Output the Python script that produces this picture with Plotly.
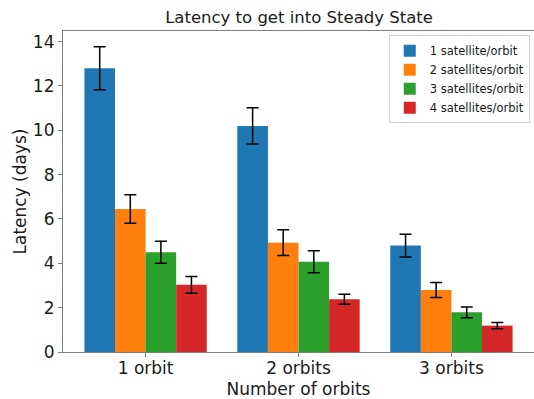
import plotly.graph_objects as go

categories = ["1 orbit", "2 orbits", "3 orbits"]
series_names = ["1 satellite/orbit", "2 satellites/orbit", "3 satellites/orbit", "4 satellites/orbit"]
colors = ["#1f77b4", "#ff7f0e", "#2ca02c", "#d62728"]

lat_1sat = [12.8, 10.2, 4.8]
lat_2sat = [6.45, 4.93, 2.8]
lat_3sat = [4.5, 4.07, 1.79]
lat_4sat = [3.03, 2.38, 1.19]

err_1sat = [0.97, 0.82, 0.51]
err_2sat = [0.64, 0.58, 0.34]
err_3sat = [0.5, 0.5, 0.24]
err_4sat = [0.38, 0.23, 0.14]

values = [lat_1sat, lat_2sat, lat_3sat, lat_4sat]
errors = [err_1sat, err_2sat, err_3sat, err_4sat]

font = "DejaVu Sans"
fig = go.Figure()
for name, col, v, e in zip(series_names, colors, values, errors):
    fig.add_trace(go.Bar(
        x=categories, y=v, name=name,
        marker=dict(color=col, line=dict(width=0)),
        error_y=dict(type="data", array=e, visible=True, color="black", thickness=1.5, width=6),
    ))

axis_line = "#7f7f7f"
fig.update_layout(
    width=534, height=399,
    margin=dict(l=63, r=0, t=31, b=47),
    paper_bgcolor="white", plot_bgcolor="white",
    barmode="group", bargap=0.2, bargroupgap=0,
    font=dict(family=font, color="#1a1a1a"),
    title=dict(text="Latency to get into Steady State", x=0.56, xanchor="center",
               y=1 - 17/399, yanchor="middle", font=dict(size=16.5, family=font, color="#1a1a1a")),
    legend=dict(x=0.991, xanchor="right", y=0.987, yanchor="top",
                bgcolor="rgba(255,255,255,0.8)", bordercolor="#d0d0d0", borderwidth=1,
                font=dict(size=11.5, family=font), tracegroupgap=0, itemwidth=30),
    xaxis=dict(
        range=[-0.54, 2.54], showline=True, linecolor=axis_line, linewidth=1.2, mirror=True,
        ticks="outside", ticklen=4, tickcolor=axis_line, tickfont=dict(size=17, family=font),
        ticklabelstandoff=-4,
        title=dict(text="Number of orbits", font=dict(size=17, family=font), standoff=8),
        showgrid=False,
    ),
    yaxis=dict(
        range=[0, 14.48], showline=True, linecolor=axis_line, linewidth=1.2, mirror=True,
        ticks="outside", ticklen=4, tickcolor=axis_line, tickfont=dict(size=17, family=font),
        tickvals=[0, 2, 4, 6, 8, 10, 12, 14],
        title=dict(text="Latency (days)", font=dict(size=17, family=font), standoff=1),
        showgrid=False, zeroline=False,
    ),
)
fig.write_html("out.html")
